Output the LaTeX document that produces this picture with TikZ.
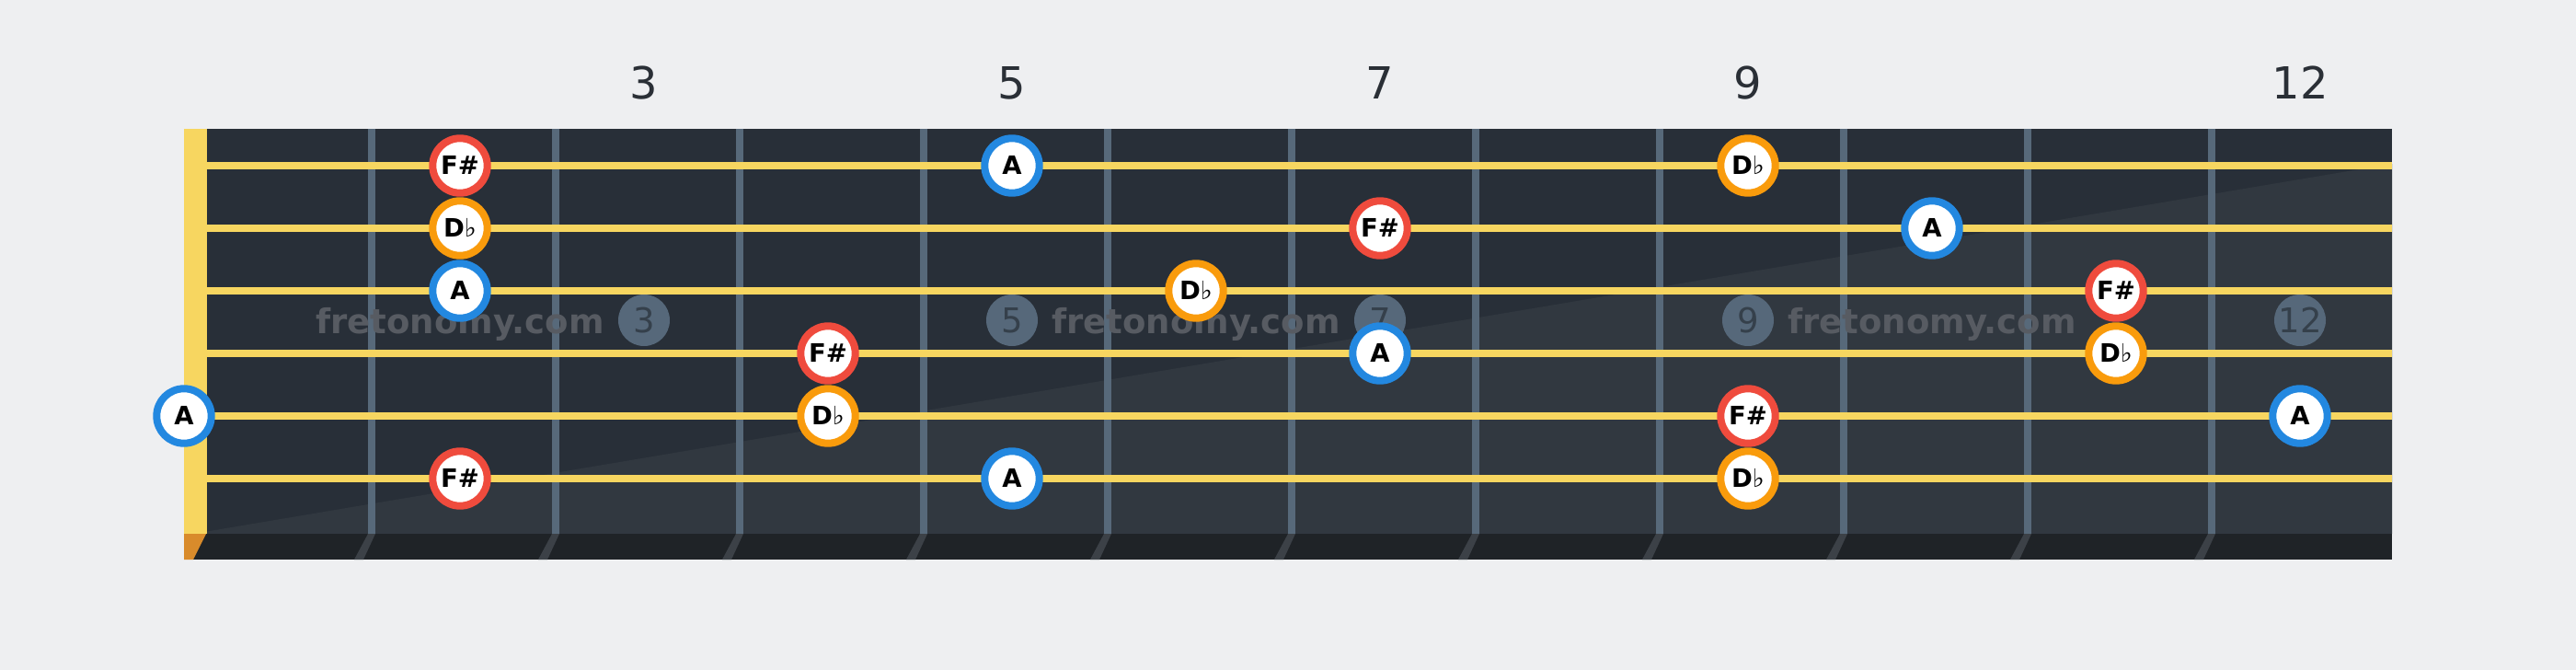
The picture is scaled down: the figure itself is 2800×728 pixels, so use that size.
\documentclass[tikz,border=0pt]{standalone}
\usepackage{fontspec}
\setmainfont{DejaVu Sans}
\usetikzlibrary{shapes}
\definecolor{bg}{HTML}{EEEFF1}
\definecolor{board}{HTML}{282F38}
\definecolor{boardlight}{HTML}{313840}
\definecolor{strip}{HTML}{1F2327}
\definecolor{wire}{HTML}{57697A}
\definecolor{wireside}{HTML}{3C4147}
\definecolor{nutyellow}{HTML}{F7D660}
\definecolor{nutside}{HTML}{D98B2B}
\definecolor{inlay}{HTML}{56687A}
\definecolor{inlaytext}{HTML}{35404B}
\definecolor{mark}{HTML}{575B62}
\definecolor{fretlabel}{HTML}{2A2F36}
\definecolor{sharpred}{HTML}{EF4B3D}
\definecolor{flatorange}{HTML}{F99B0C}
\definecolor{rootblue}{HTML}{2388E0}
\tikzstyle{note} = [circle, draw, fill=white, line width=8pt, minimum size=59.4pt, inner sep=0pt, text height=19.7pt, text depth=0pt, font=\bfseries\fontsize{27.5}{27.5}\selectfont]
\tikzstyle{fsharp} = [note, draw=sharpred]
\tikzstyle{dflat} = [note, draw=flatorange]
\tikzstyle{root} = [note, draw=rootblue]
\tikzstyle{inlaydot} = [circle, fill=inlay, minimum size=56pt, inner sep=0pt]
\tikzstyle{inlaynum} = [anchor=base, text=inlaytext, font=\fontsize{37}{37}\selectfont]
\tikzstyle{fretnum} = [anchor=base, text=fretlabel, font=\fontsize{48}{48}\selectfont]
\tikzstyle{watermark} = [anchor=base, text=mark, font=\bfseries\fontsize{37}{37}\selectfont]
\newcommand{\flt}{{\mdseries\char"266D}}

\begin{document}
\begin{tikzpicture}[x=1pt, y=-1pt]
   % canvas
   \useasboundingbox[fill=bg] (0,0) rectangle (2800,728);

   % board
   \fill[board] (225,140) rectangle (2600,580);
   \fill[boardlight] (210,580) -- (2600,178) -- (2600,580) -- cycle;
   \fill[strip] (200,580) rectangle (2600,608);
   \fill[nutside] (200,580) -- (224,580) -- (210,608) -- (200,608) -- cycle;

   % frets
   \foreach \k in {1,...,11} {
      \fill[wire] ({200+200*\k},140) rectangle ({208+200*\k},580);
      \fill[wireside] ({200+200*\k},580) -- ({208+200*\k},580) -- ({195+200*\k},608) -- ({185+200*\k},608) -- cycle;
   }

   % inlays and fret numbers
   \foreach \f/\x in {3/700, 5/1100, 7/1500, 9/1900, 12/2500} {
      \node[inlaydot] (dot\f) at (\x,348) {};
      \node[inlaynum] (in\f) at (\x,361) {\f};
      \node[fretnum] (top\f) at (\x,107) {\f};
   }

   % watermarks
   \foreach \x [count=\i] in {500,1300,2100}
      \node[watermark] (wm\i) at (\x,362) {fretonomy.com};

   % nut and strings
   \fill[nutyellow] (200,140) rectangle (225,580);
   \foreach \s in {0,...,5}
      \fill[nutyellow] (225,{176+68*\s}) rectangle (2600,{184+68*\s});

   % notes
   \node[fsharp] (s1f2)  at (500,180)  {F\#};
   \node[root]   (s1f5)  at (1100,180) {A};
   \node[dflat]  (s1f9)  at (1900,180) {D\flt};
   \node[dflat]  (s2f2)  at (500,248)  {D\flt};
   \node[fsharp] (s2f7)  at (1500,248) {F\#};
   \node[root]   (s2f10) at (2100,248) {A};
   \node[root]   (s3f2)  at (500,316)  {A};
   \node[dflat]  (s3f6)  at (1300,316) {D\flt};
   \node[fsharp] (s3f11) at (2300,316) {F\#};
   \node[fsharp] (s4f4)  at (900,384)  {F\#};
   \node[root]   (s4f7)  at (1500,384) {A};
   \node[dflat]  (s4f11) at (2300,384) {D\flt};
   \node[root]   (s5f0)  at (200,452)  {A};
   \node[dflat]  (s5f4)  at (900,452)  {D\flt};
   \node[fsharp] (s5f9)  at (1900,452) {F\#};
   \node[root]   (s5f12) at (2500,452) {A};
   \node[fsharp] (s6f2)  at (500,520)  {F\#};
   \node[root]   (s6f5)  at (1100,520) {A};
   \node[dflat]  (s6f9)  at (1900,520) {D\flt};
\end{tikzpicture}
\end{document}
